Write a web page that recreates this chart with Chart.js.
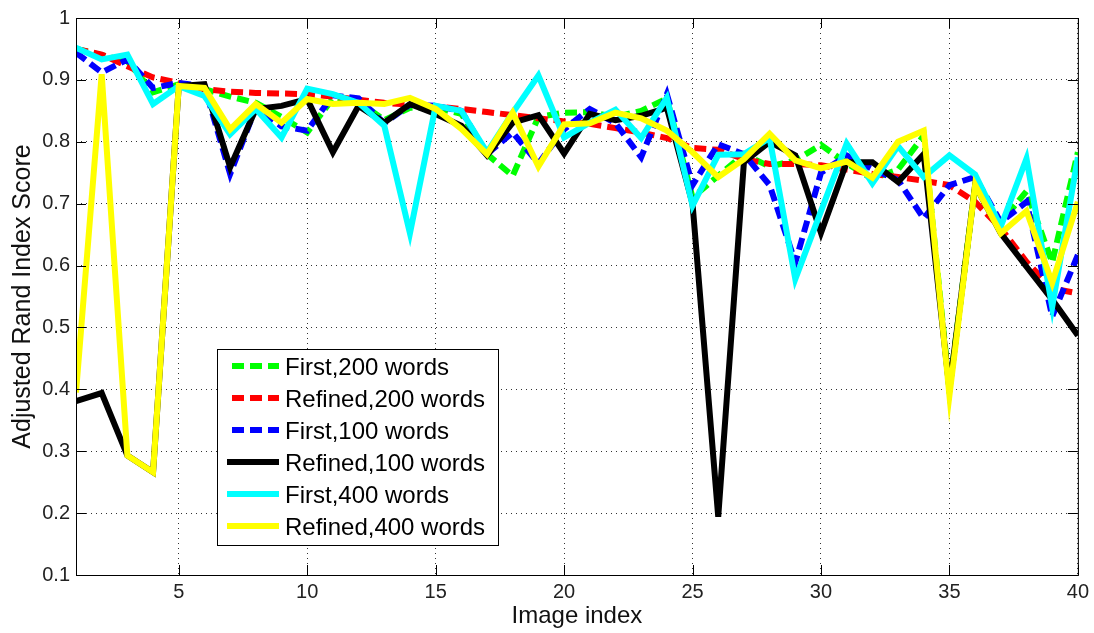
<!DOCTYPE html>
<html>
<head>
<meta charset="utf-8">
<title>Adjusted Rand Index Score</title>
<script src="https://cdn.jsdelivr.net/npm/chart.js@4/dist/chart.umd.min.js"></script>
<style>
  html, body { margin: 0; padding: 0; background: #fff; }
  #wrap { width: 1094px; height: 633px; }
</style>
</head>
<body>
<div id="wrap"><canvas id="ariChart" width="1094" height="633"></canvas></div>
<script>
// Image index (x axis)
const imageIndex = [1, 2, 3, 4, 5, 6, 7, 8, 9, 10, 11, 12, 13, 14, 15, 16, 17, 18, 19, 20,
                    21, 22, 23, 24, 25, 26, 27, 28, 29, 30, 31, 32, 33, 34, 35, 36, 37, 38, 39, 40];

// Tick labels
const xTicks = [5, 10, 15, 20, 25, 30, 35, 40];
const yTicks = [0.1, 0.2, 0.3, 0.4, 0.5, 0.6, 0.7, 0.8, 0.9, 1];

// Series
const first200 = [0.95, 0.94, 0.93, 0.88, 0.893, 0.885, 0.873, 0.863, 0.84, 0.815,
                  0.87, 0.865, 0.835, 0.855, 0.855, 0.845, 0.78, 0.745, 0.84, 0.847,
                  0.848, 0.84, 0.85, 0.87, 0.71, 0.745, 0.78, 0.76, 0.77, 0.795,
                  0.765, 0.74, 0.755, 0.81, 0.40, 0.73, 0.67, 0.72, 0.605, 0.783];
const refined200 = [0.95, 0.941, 0.922, 0.904, 0.895, 0.885, 0.881, 0.879, 0.878, 0.877,
                    0.873, 0.868, 0.863, 0.86, 0.857, 0.853, 0.848, 0.843, 0.838, 0.833,
                    0.829, 0.822, 0.815, 0.806, 0.79, 0.787, 0.772, 0.764, 0.764, 0.762,
                    0.755, 0.748, 0.743, 0.737, 0.73, 0.703, 0.66, 0.606, 0.563, 0.555];
const first100 = [0.944, 0.912, 0.933, 0.887, 0.895, 0.89, 0.748, 0.855, 0.825, 0.818,
                  0.875, 0.87, 0.83, 0.86, 0.858, 0.85, 0.78, 0.815, 0.765, 0.82,
                  0.853, 0.83, 0.775, 0.877, 0.73, 0.796, 0.78, 0.73, 0.605, 0.75,
                  0.778, 0.756, 0.738, 0.676, 0.73, 0.743, 0.67, 0.703, 0.518, 0.617];
const refined100 = [0.381, 0.394, 0.293, 0.266, 0.89, 0.893, 0.759, 0.853, 0.858, 0.869,
                    0.783, 0.858, 0.831, 0.861, 0.845, 0.826, 0.778, 0.831, 0.843, 0.781,
                    0.845, 0.835, 0.842, 0.855, 0.70, 0.194, 0.767, 0.80, 0.778, 0.653,
                    0.767, 0.767, 0.735, 0.78, 0.40, 0.73, 0.652, 0.598, 0.545, 0.487];
const first400 = [0.952, 0.933, 0.941, 0.861, 0.89, 0.874, 0.812, 0.853, 0.807, 0.886,
                  0.877, 0.863, 0.826, 0.652, 0.858, 0.85, 0.783, 0.847, 0.907, 0.807,
                  0.831, 0.852, 0.806, 0.871, 0.697, 0.779, 0.78, 0.806, 0.578, 0.688,
                  0.797, 0.733, 0.793, 0.743, 0.778, 0.747, 0.663, 0.773, 0.533, 0.775];
const refined400 = [0.395, 0.909, 0.293, 0.266, 0.89, 0.887, 0.82, 0.861, 0.831, 0.869,
                    0.861, 0.863, 0.861, 0.871, 0.853, 0.821, 0.78, 0.847, 0.76, 0.828,
                    0.83, 0.847, 0.838, 0.818, 0.783, 0.743, 0.772, 0.813, 0.77, 0.757,
                    0.768, 0.742, 0.80, 0.818, 0.39, 0.73, 0.652, 0.688, 0.572, 0.703];

const seriesDefs = [
    { label: 'First,200 words',   values: first200,   color: '#00ff00', dashed: true },
    { label: 'Refined,200 words', values: refined200, color: '#ff0000', dashed: true },
    { label: 'First,100 words',   values: first100,   color: '#0000ff', dashed: true },
    { label: 'Refined,100 words', values: refined100, color: '#000000', dashed: false },
    { label: 'First,400 words',   values: first400,   color: '#00ffff', dashed: false },
    { label: 'Refined,400 words', values: refined400, color: '#ffff00', dashed: false }
];

const FONT = 'Arial, "Liberation Sans", Helvetica, sans-serif';
const DASH = [12, 6];

// later series are drawn on top (lower order = on top in Chart.js)
const datasets = seriesDefs.map((s, i) => ({
    label: s.label,
    data: imageIndex.map((x, k) => ({ x, y: s.values[k] })),
    borderColor: s.color,
    backgroundColor: s.color,
    borderWidth: 6,
    borderDash: s.dashed ? DASH : [],
    pointRadius: 0,
    tension: 0,
    fill: false,
    order: seriesDefs.length - i
}));

// Box round the axes plus inward tick marks
const framePlugin = {
    id: 'frame',
    afterDatasetsDraw(chart) {
        const { ctx, chartArea: a, scales } = chart;
        ctx.save();
        ctx.strokeStyle = '#000';
        ctx.lineWidth = 1;
        ctx.setLineDash([]);
        ctx.strokeRect(a.left + 0.5, a.top + 0.5, a.right - a.left, a.bottom - a.top);
        ctx.beginPath();
        xTicks.forEach(v => {
            const px = Math.round(scales.x.getPixelForValue(v)) + 0.5;
            ctx.moveTo(px, a.bottom); ctx.lineTo(px, a.bottom - 10);
            ctx.moveTo(px, a.top); ctx.lineTo(px, a.top + 10);
        });
        yTicks.forEach(v => {
            const py = Math.round(scales.y.getPixelForValue(v)) + 0.5;
            ctx.moveTo(a.left, py); ctx.lineTo(a.left + 10, py);
            ctx.moveTo(a.right, py); ctx.lineTo(a.right - 10, py);
        });
        ctx.stroke();
        ctx.restore();
    }
};

// Legend box inside the plot
const legendPlugin = {
    id: 'boxLegend',
    afterDraw(chart) {
        const { ctx, chartArea: a } = chart;
        const x0 = a.left + 141, y0 = a.top + 331, w = 281, h = 196;
        ctx.save();
        ctx.fillStyle = '#fff';
        ctx.fillRect(x0, y0, w, h);
        ctx.strokeStyle = '#000';
        ctx.lineWidth = 1;
        ctx.strokeRect(x0 + 0.5, y0 + 0.5, w, h);
        ctx.font = '24px ' + FONT;
        ctx.textBaseline = 'middle';
        chart.data.datasets.forEach((ds, i) => {
            const y = y0 + 17 + i * 32;
            ctx.beginPath();
            ctx.strokeStyle = ds.borderColor;
            ctx.lineWidth = 6;
            ctx.setLineDash(ds.borderDash);
            const sx = ds.borderDash.length ? x0 + 15 : x0 + 10;
            ctx.moveTo(sx, y);
            ctx.lineTo(x0 + 62, y);
            ctx.stroke();
            ctx.setLineDash([]);
            ctx.fillStyle = '#000';
            ctx.fillText(ds.label, x0 + 68, y + 2);
        });
        ctx.restore();
    }
};

new Chart(document.getElementById('ariChart'), {
    type: 'line',
    data: { datasets },
    options: {
        responsive: false,
        animation: false,
        layout: { padding: { top: 15, right: 13, left: 0, bottom: 0 } },
        plugins: { legend: { display: false }, tooltip: { enabled: false } },
        scales: {
            x: {
                type: 'linear',
                min: 1,
                max: 40,
                afterBuildTicks: s => { s.ticks = xTicks.map(v => ({ value: v })); },
                afterFit: s => { s.height = 58; },
                grid: { color: '#333', lineWidth: 1, drawTicks: false },
                border: { display: false, dash: [1, 4] },
                ticks: { color: '#222', font: { family: FONT, size: 20 }, padding: 5, maxRotation: 0 },
                title: { display: true, text: 'Image index', color: '#111', font: { family: FONT, size: 24 }, padding: { top: 0, bottom: 2 } }
            },
            y: {
                min: 0.1,
                max: 1,
                afterBuildTicks: s => { s.ticks = yTicks.map(v => ({ value: v })); },
                afterFit: s => { s.width = 76; },
                grid: { color: '#333', lineWidth: 1, drawTicks: false },
                border: { display: false, dash: [1, 4] },
                ticks: { color: '#222', font: { family: FONT, size: 20 }, padding: 6,
                         callback: v => String(parseFloat(Number(v).toFixed(1))) },
                title: { display: true, text: 'Adjusted Rand Index Score', color: '#111', font: { family: FONT, size: 25 }, padding: { top: 8, bottom: 0 } }
            }
        }
    },
    plugins: [framePlugin, legendPlugin]
});
</script>
</body>
</html>
